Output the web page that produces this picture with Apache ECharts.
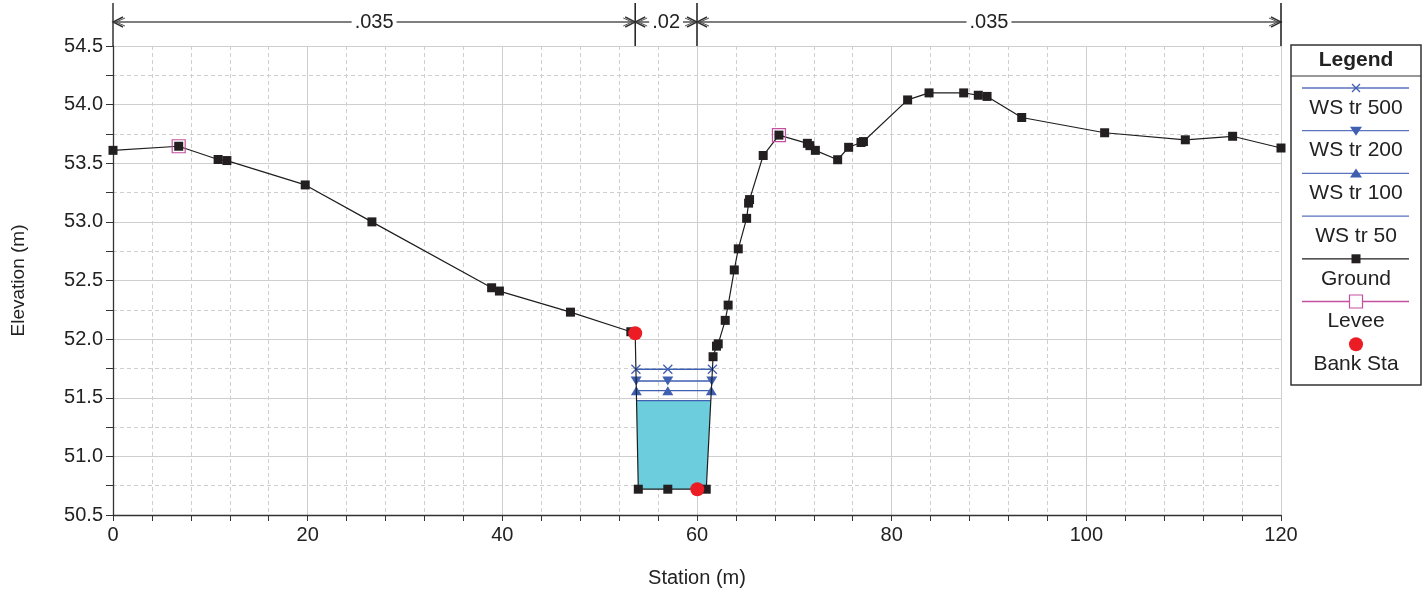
<!DOCTYPE html>
<html><head><meta charset="utf-8">
<script src="https://cdn.jsdelivr.net/npm/echarts@6.0.0/dist/echarts.min.js"></script>
<style>html,body{margin:0;padding:0;background:#fff}#c{width:1428px;height:591px}</style>
</head><body><div id="c"></div>
<script>
// ---- data ----
const groundX = [0, 6.75, 10.8, 11.7, 19.75, 26.6, 38.9, 39.7, 47.0, 53.2, 53.65, 53.97, 57.0, 60.95, 61.65, 62.0, 62.18, 62.9, 63.2, 63.83, 64.24, 65.1, 65.3, 65.4, 66.8, 68.42, 71.34, 71.6, 72.16, 74.45, 75.58, 76.85, 77.1, 81.64, 83.84, 87.4, 88.9, 89.8, 93.36, 101.88, 110.17, 115.03, 120];
const groundY = [53.61, 53.645, 53.532, 53.523, 53.315, 53.0, 52.438, 52.41, 52.23, 52.063, 52.05, 50.72, 50.72, 50.72, 51.85, 51.94, 51.96, 52.16, 52.29, 52.59, 52.77, 53.03, 53.16, 53.19, 53.566, 53.74, 53.67, 53.65, 53.61, 53.53, 53.636, 53.677, 53.685, 54.04, 54.1, 54.1, 54.08, 54.07, 53.89, 53.76, 53.70, 53.73, 53.63];
const leveeX = [6.75, 68.42];
const leveeY = [53.645, 53.74];
const bankX = [53.65, 60.03];
const bankY = [52.05, 50.72];
const wsNames = ['WS tr 500', 'WS tr 200', 'WS tr 100', 'WS tr 50'];
const wsElev = [51.743, 51.643, 51.56, 51.475];
const wsMidStation = 57.0;
const nValues = ['.035', '.02', '.035'];
const nBreaks = [0, 53.65, 60.0, 120];
const xTicks = [0, 20, 40, 60, 80, 100, 120];
const yTicks = [50.5, 51.0, 51.5, 52.0, 52.5, 53.0, 53.5, 54.0, 54.5];

// ---- helpers: wetted section from ground and WS level ----
function wetSection(level) {
  let iMin = 0;
  for (let i = 1; i < groundY.length; i++) if (groundY[i] < groundY[iMin]) iMin = i;
  let l = iMin; while (l > 0 && groundY[l - 1] < level) l--;
  let r = iMin; while (r < groundY.length - 1 && groundY[r + 1] < level) r++;
  const cross = (a, b) => groundX[a] + (groundX[b] - groundX[a]) * (level - groundY[a]) / (groundY[b] - groundY[a]);
  const xl = cross(l - 1, l), xr = cross(r + 1, r);
  const inner = [];
  for (let i = l; i <= r; i++) inner.push([groundX[i], groundY[i]]);
  return { xl, xr, inner };
}

const BLUE = '#3f5fb0';
const xPath = 'path://M0,0L10,10M10,0L0,10';
const wsSymbols = [
  { symbol: xPath, size: 9, rotate: 0 },
  { symbol: 'triangle', size: [11, 9], rotate: 180 },
  { symbol: 'triangle', size: [11, 9], rotate: 0 },
  { symbol: 'none', size: 0, rotate: 0 }
];

const series = [];
// water fill (lowest WS profile)
const w50 = wetSection(wsElev[3]);
series.push({
  type: 'custom', name: 'water', silent: true, z: 1,
  data: [[w50.xl, wsElev[3]]],
  renderItem: (params, api) => {
    const pts = [[w50.xl, wsElev[3]]].concat(w50.inner).concat([[w50.xr, wsElev[3]]]).map(p => api.coord(p));
    return { type: 'polygon', shape: { points: pts }, style: { fill: '#6ccddc', stroke: null } };
  }
});
// WS lines
wsNames.forEach((nm, k) => {
  const s = wetSection(wsElev[k]);
  const d = [[s.xl, wsElev[k]], [wsMidStation, wsElev[k]], [s.xr, wsElev[k]]];
  series.push({
    type: 'line', name: nm, data: d, z: 3,
    symbol: wsSymbols[k].symbol, symbolSize: wsSymbols[k].size, symbolRotate: wsSymbols[k].rotate,
    showSymbol: wsSymbols[k].symbol !== 'none',
    lineStyle: { color: BLUE, width: 1.3 },
    itemStyle: { color: k === 0 ? 'rgba(0,0,0,0)' : BLUE, borderColor: BLUE, borderWidth: k === 0 ? 1.3 : 0, opacity: 1 },
    animation: false, silent: true
  });
});
// Ground
series.push({
  type: 'line', name: 'Ground', z: 4,
  data: groundX.map((x, i) => [x, groundY[i]]),
  symbol: 'rect', symbolSize: 9,
  lineStyle: { color: '#1e1e1e', width: 1.2 },
  itemStyle: { color: '#231f20', opacity: 1 },
  animation: false, silent: true
});
// Levee
series.push({
  type: 'scatter', name: 'Levee', z: 5,
  data: leveeX.map((x, i) => [x, leveeY[i]]),
  symbol: 'rect', symbolSize: 13,
  itemStyle: { color: 'rgba(0,0,0,0)', borderColor: '#c4519f', borderWidth: 1.2, opacity: 1 },
  animation: false, silent: true
});
// Bank stations
series.push({
  type: 'scatter', name: 'Bank Sta', z: 6,
  data: bankX.map((x, i) => [x, bankY[i]]),
  symbol: 'circle', symbolSize: 14,
  itemStyle: { color: '#ec1c24', opacity: 1 },
  animation: false, silent: true
});
// Manning's n annotations above the plot
series.push({
  type: 'custom', name: 'nvalues', silent: true, clip: false, z: 7,
  data: nValues.map((v, i) => [nBreaks[i], nBreaks[i + 1]]),
  encode: { x: [0, 1] },
  renderItem: (params, api) => {
    const a = api.coord([api.value(0), yTicks[yTicks.length - 1]]);
    const b = api.coord([api.value(1), yTicks[yTicks.length - 1]]);
    const yA = a[1] - 24, yTop = a[1] - 43;
    const lc = '#555', ah = 10, aw = 5;
    const ch = [
      { type: 'line', shape: { x1: a[0], y1: yA, x2: b[0], y2: yA }, style: { stroke: lc, lineWidth: 1.3 } },
      { type: 'polyline', shape: { points: [[a[0] + ah, yA - aw], [a[0], yA], [a[0] + ah, yA + aw]] }, style: { stroke: '#333', lineWidth: 1.4, fill: null } },
      { type: 'polyline', shape: { points: [[a[0] + ah + 2, yA - aw + 1], [a[0] + 3, yA], [a[0] + ah + 2, yA + aw - 1]] }, style: { stroke: '#555', lineWidth: 1, fill: null } },
      { type: 'polyline', shape: { points: [[b[0] - ah, yA - aw], [b[0], yA], [b[0] - ah, yA + aw]] }, style: { stroke: '#333', lineWidth: 1.4, fill: null } },
      { type: 'polyline', shape: { points: [[b[0] - ah - 2, yA - aw + 1], [b[0] - 3, yA], [b[0] - ah - 2, yA + aw - 1]] }, style: { stroke: '#555', lineWidth: 1, fill: null } },
      { type: 'line', shape: { x1: b[0], y1: yTop, x2: b[0], y2: a[1] }, style: { stroke: '#1a1a1a', lineWidth: 1.5 } },
      { type: 'text', x: (a[0] + b[0]) / 2, y: yA, style: { text: nValues[params.dataIndex], font: '20px "Liberation Sans", Arial, sans-serif', fill: '#222', align: 'center', verticalAlign: 'middle', backgroundColor: '#fff', padding: [0, 3] } }
    ];
    if (params.dataIndex === 0) ch.push({ type: 'line', shape: { x1: a[0], y1: yTop, x2: a[0], y2: a[1] }, style: { stroke: '#333', lineWidth: 1.5 } });
    return { type: 'group', children: ch };
  }
});

// ---- legend box (drawn with graphic elements) ----
const LX = 1291, LW = 130, LT = 45, LB = 385, LC = LX + LW / 2;
const LFONT = '"Liberation Sans", Arial, sans-serif';
const lg = [
  { type: 'rect', shape: { x: LX, y: LT, width: LW, height: LB - LT }, style: { fill: '#fff', stroke: '#333', lineWidth: 1.5 } },
  { type: 'line', shape: { x1: LX, y1: 76, x2: LX + LW, y2: 76 }, style: { stroke: '#333', lineWidth: 1.2 } },
  { type: 'text', x: LC, y: 60, style: { text: 'Legend', font: 'bold 21px ' + LFONT, fill: '#222', align: 'center', verticalAlign: 'middle' } }
];
const legNames = wsNames.concat(['Ground', 'Levee', 'Bank Sta']);
const legLine = ['#5a74be', '#5a74be', '#5a74be', '#5a74be', '#1e1e1e', '#c4519f', null];
legNames.forEach((nm, i) => {
  const y = 88 + 42.7 * i;
  if (legLine[i]) lg.push({ type: 'line', shape: { x1: 1302, y1: y, x2: 1409, y2: y }, style: { stroke: legLine[i], lineWidth: 1.3 } });
  if (i === 0) {
    lg.push({ type: 'line', shape: { x1: LC - 4, y1: y - 4, x2: LC + 4, y2: y + 4 }, style: { stroke: BLUE, lineWidth: 1.3 } });
    lg.push({ type: 'line', shape: { x1: LC - 4, y1: y + 4, x2: LC + 4, y2: y - 4 }, style: { stroke: BLUE, lineWidth: 1.3 } });
  } else if (i === 1) {
    lg.push({ type: 'polygon', shape: { points: [[LC - 6, y - 4], [LC + 6, y - 4], [LC, y + 5]] }, style: { fill: BLUE } });
  } else if (i === 2) {
    lg.push({ type: 'polygon', shape: { points: [[LC - 6, y + 4], [LC + 6, y + 4], [LC, y - 5]] }, style: { fill: BLUE } });
  } else if (i === 4) {
    lg.push({ type: 'rect', shape: { x: LC - 4.5, y: y - 4.5, width: 9, height: 9 }, style: { fill: '#231f20' } });
  } else if (i === 5) {
    lg.push({ type: 'rect', shape: { x: LC - 6.5, y: y - 6.5, width: 13, height: 13 }, style: { fill: '#fff', stroke: '#c4519f', lineWidth: 1.2 } });
  } else if (i === 6) {
    lg.push({ type: 'circle', shape: { cx: LC, cy: y, r: 7 }, style: { fill: '#ec1c24' } });
  }
  lg.push({ type: 'text', x: LC, y: y + 20, style: { text: nm, font: '21px ' + LFONT, fill: '#222', align: 'center', verticalAlign: 'middle' } });
});

const FONT = '"Liberation Sans", Arial, sans-serif';
const chart = echarts.init(document.getElementById('c'), null, { renderer: 'canvas' });
chart.setOption({
  animation: false,
  backgroundColor: '#fff',
  grid: { left: 113, right: 147, top: 46, bottom: 76, containLabel: false, outerBoundsMode: 'none' },
  xAxis: {
    type: 'value', min: xTicks[0], max: xTicks[xTicks.length - 1], interval: xTicks[1] - xTicks[0],
    name: 'Station (m)', nameLocation: 'middle', nameGap: 53,
    nameTextStyle: { fontFamily: FONT, fontSize: 20, color: '#222' },
    axisLine: { show: true, onZero: false, lineStyle: { color: '#333', width: 1.3 } },
    axisTick: { show: true, length: 6, lineStyle: { color: '#333' } },
    minorTick: { show: true, splitNumber: 5, length: 6, lineStyle: { color: '#333' } },
    axisLabel: { fontFamily: FONT, fontSize: 20, color: '#222', margin: 10, showMinLabel: true, showMaxLabel: true },
    splitLine: { show: true, lineStyle: { color: '#cfcfcf', width: 1 } },
    minorSplitLine: { show: true, lineStyle: { color: '#cfcfcf', width: 1, type: [4, 3] } }
  },
  yAxis: {
    type: 'value', min: yTicks[0], max: yTicks[yTicks.length - 1], interval: yTicks[1] - yTicks[0],
    name: 'Elevation (m)', nameLocation: 'middle', nameGap: 85,
    nameTextStyle: { fontFamily: FONT, fontSize: 19, color: '#222' },
    axisLine: { show: true, onZero: false, lineStyle: { color: '#333', width: 1.3 } },
    axisTick: { show: true, length: 7, lineStyle: { color: '#333' } },
    minorTick: { show: true, splitNumber: 2, length: 7, lineStyle: { color: '#333' } },
    axisLabel: { fontFamily: FONT, fontSize: 20, color: '#222', margin: 10, formatter: v => v.toFixed(1), showMinLabel: true, showMaxLabel: true },
    splitLine: { show: true, lineStyle: { color: '#cfcfcf', width: 1 } },
    minorSplitLine: { show: true, lineStyle: { color: '#cfcfcf', width: 1, type: [4, 3] } }
  },
  series: series,
  graphic: lg
});
</script>
</body></html>
